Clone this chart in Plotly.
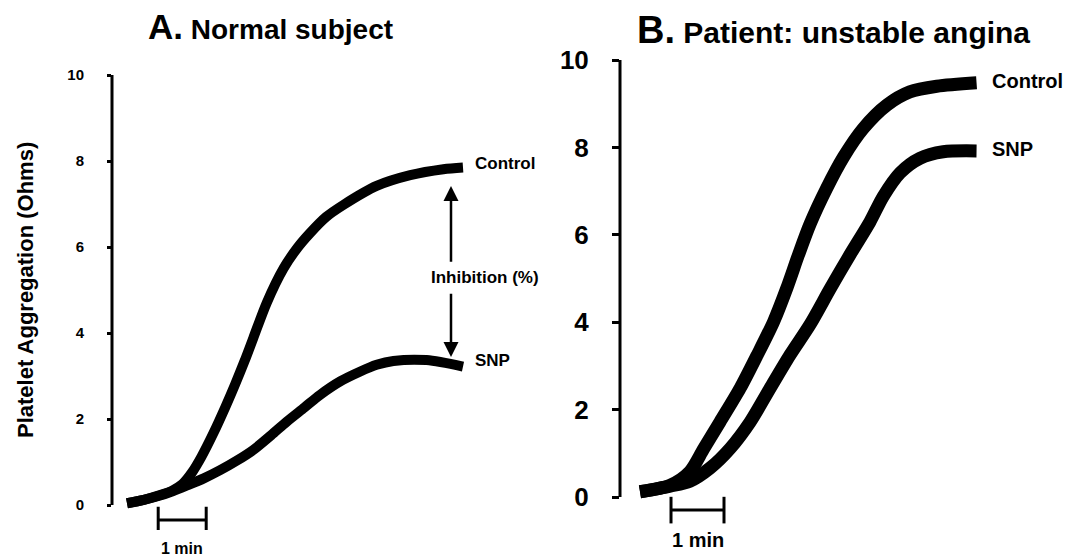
import plotly.graph_objects as go

# ---------------- data ----------------
# Panel A: normal subject (time in minutes, aggregation in Ohms)
a_time_control = [0, 0.35, 0.69, 0.95, 1.15, 1.35, 1.55, 1.80, 2.05, 2.25, 2.45, 2.63, 2.91, 3.26, 3.55, 3.81, 4.15, 4.51, 5.20, 5.90, 6.59, 7.0]
a_control = [0.04, 0.12, 0.23, 0.34, 0.48, 0.75, 1.12, 1.67, 2.28, 2.80, 3.35, 3.88, 4.70, 5.50, 5.98, 6.32, 6.70, 6.98, 7.42, 7.67, 7.81, 7.85]
a_time_snp = [0, 0.35, 0.69, 0.95, 1.24, 1.6, 1.94, 2.3, 2.63, 3.0, 3.33, 3.7, 4.02, 4.45, 4.85, 5.2, 5.55, 6.24, 7.0]
a_snp = [0.04, 0.12, 0.22, 0.32, 0.45, 0.62, 0.81, 1.04, 1.28, 1.62, 1.94, 2.27, 2.56, 2.88, 3.10, 3.26, 3.35, 3.37, 3.22]

# Panel B: patient with unstable angina
b_time_control = [0, 0.57, 0.94, 1.2, 1.51, 1.89, 2.20, 2.52, 2.77, 2.99, 3.21, 3.52, 3.84, 4.21, 4.66, 5.09, 5.60, 6.35]
b_control = [0.12, 0.27, 0.58, 1.10, 1.72, 2.49, 3.22, 4.01, 4.78, 5.54, 6.25, 7.06, 7.78, 8.43, 8.97, 9.27, 9.40, 9.48]
b_time_snp = [0, 0.57, 0.94, 1.32, 1.70, 2.08, 2.45, 2.83, 3.21, 3.59, 3.96, 4.34, 4.59, 4.91, 5.28, 5.72, 6.35]
b_snp = [0.12, 0.25, 0.36, 0.66, 1.11, 1.72, 2.48, 3.25, 3.95, 4.77, 5.54, 6.30, 6.88, 7.42, 7.75, 7.90, 7.92]

y_ticks = [0, 2, 4, 6, 8, 10]
scale_bar_a = [0.65, 1.65]    # 1 min
scale_bar_b = [0.585, 1.585]  # 1 min
inhibition_top = 7.42
inhibition_bottom = 3.44
inhibition_time = 6.75

# ---------------- figure ----------------
W, H = 1077, 560
FONT = "Liberation Sans, Arial, sans-serif"


def px_x(p):
    return p / W


def px_y(p):
    return 1 - p / H


fig = go.Figure()

curve_style_a = dict(color="black", width=10, shape="spline", smoothing=0.8)
curve_style_b = dict(color="black", width=13, shape="spline", smoothing=0.8)

fig.add_trace(go.Scatter(x=a_time_control, y=a_control, mode="lines", line=curve_style_a,
                         xaxis="x", yaxis="y", showlegend=False))
fig.add_trace(go.Scatter(x=a_time_snp, y=a_snp, mode="lines", line=curve_style_a,
                         xaxis="x", yaxis="y", showlegend=False))
fig.add_trace(go.Scatter(x=b_time_control, y=b_control, mode="lines", line=curve_style_b,
                         xaxis="x2", yaxis="y2", showlegend=False))
fig.add_trace(go.Scatter(x=b_time_snp, y=b_snp, mode="lines", line=curve_style_b,
                         xaxis="x2", yaxis="y2", showlegend=False))

# Scale bars (1 min)
bar_marker = dict(symbol="line-ns-open", size=19, line=dict(width=3, color="black"))
fig.add_trace(go.Scatter(x=scale_bar_a, y=[-0.35, -0.35], mode="lines+markers",
                         line=dict(color="black", width=3), marker=bar_marker,
                         xaxis="x", yaxis="y", showlegend=False))
fig.add_trace(go.Scatter(x=scale_bar_b, y=[-0.30, -0.30], mode="lines+markers",
                         line=dict(color="black", width=3), marker=bar_marker,
                         xaxis="x2", yaxis="y2", showlegend=False))

# Axes: panel A
a_left, a_right = 112, 545
a_t0, a_pxmin = 127, 48.0
a_y0px, a_pxunit = 505, 43.0
a_top, a_bot = 60, 530
fig.update_layout(
    xaxis=dict(domain=[px_x(a_left), px_x(a_right)],
               range=[(a_left - a_t0) / a_pxmin, (a_right - a_t0) / a_pxmin],
               visible=False, anchor="y"),
    yaxis=dict(domain=[px_y(a_bot), px_y(a_top)],
               range=[(a_y0px - a_bot) / a_pxunit, (a_y0px - a_top) / a_pxunit],
               tickvals=y_ticks, ticks="outside", ticklen=4, tickwidth=3, tickcolor="black",
               showgrid=False, zeroline=False, showline=False, anchor="x",
               ticklabelstandoff=20,
               tickfont=dict(family=FONT, size=15, color="black", weight="bold")),
)

# Axes: panel B
b_left, b_right = 620, 1010
b_t0, b_pxmin = 640, 53.0
b_y0px, b_pxunit = 497, 43.7
b_top, b_bot = 40, 525
fig.update_layout(
    xaxis2=dict(domain=[px_x(b_left), px_x(b_right)],
                range=[(b_left - b_t0) / b_pxmin, (b_right - b_t0) / b_pxmin],
                visible=False, anchor="y2"),
    yaxis2=dict(domain=[px_y(b_bot), px_y(b_top)],
                range=[(b_y0px - b_bot) / b_pxunit, (b_y0px - b_top) / b_pxunit],
                tickvals=y_ticks, ticks="outside", ticklen=7, tickwidth=3, tickcolor="black",
                showgrid=False, zeroline=False, showline=False, anchor="x2",
                ticklabelstandoff=18,
                tickfont=dict(family=FONT, size=26, color="black", weight="bold")),
)

# vertical axis lines from 0 to 10
fig.add_shape(type="line", xref="x domain", yref="y", x0=0, x1=0, y0=0, y1=10,
              line=dict(color="black", width=3))
fig.add_shape(type="line", xref="x2 domain", yref="y2", x0=0, x1=0, y0=0, y1=10,
              line=dict(color="black", width=3))


def a_paper(t, v):
    return px_x(a_t0 + t * a_pxmin), px_y(a_y0px - v * a_pxunit)


def b_paper(t, v):
    return px_x(b_t0 + t * b_pxmin), px_y(b_y0px - v * b_pxunit)


ann = []
# Titles
ann.append(dict(text="<b><span style='font-size:35px'>A.</span> Normal subject</b>",
                xref="paper", yref="paper", x=px_x(270), y=px_y(26), showarrow=False,
                font=dict(family=FONT, size=28, color="black"), xanchor="center", yanchor="middle"))
ann.append(dict(text="<b><span style='font-size:38px'>B.</span> Patient: unstable angina</b>",
                xref="paper", yref="paper", x=px_x(833), y=px_y(30), showarrow=False,
                font=dict(family=FONT, size=30, color="black"), xanchor="center", yanchor="middle"))
# Y title
ann.append(dict(text="<b>Platelet Aggregation (Ohms)</b>", xref="paper", yref="paper",
                x=px_x(25), y=px_y(290), textangle=-90, showarrow=False,
                font=dict(family=FONT, size=22, color="black"), xanchor="center", yanchor="middle"))
# Curve labels A
ann.append(dict(text="<b>Control</b>", xref="x", yref="y", x=(473 - a_t0) / a_pxmin, y=a_control[-1] + 0.1,
                showarrow=False, xanchor="left", yanchor="middle",
                font=dict(family=FONT, size=17, color="black")))
ann.append(dict(text="<b>SNP</b>", xref="x", yref="y", x=(473 - a_t0) / a_pxmin, y=a_snp[-1] + 0.15,
                showarrow=False, xanchor="left", yanchor="middle",
                font=dict(family=FONT, size=17, color="black")))
ann.append(dict(text="<b>Inhibition (%)</b>", xref="x", yref="y", x=inhibition_time + 0.7, y=5.28,
                showarrow=False, xanchor="center", yanchor="middle",
                font=dict(family=FONT, size=17, color="black")))
# Double arrow (split around text)
ann.append(dict(text="", xref="x", yref="y", axref="x", ayref="y",
                x=inhibition_time, y=inhibition_top, ax=inhibition_time, ay=5.62,
                showarrow=True, arrowhead=2, arrowsize=1.2, arrowwidth=2.5, arrowcolor="black"))
ann.append(dict(text="", xref="x", yref="y", axref="x", ayref="y",
                x=inhibition_time, y=inhibition_bottom, ax=inhibition_time, ay=4.95,
                showarrow=True, arrowhead=2, arrowsize=1.2, arrowwidth=2.5, arrowcolor="black"))
# Curve labels B
ann.append(dict(text="<b>Control</b>", xref="x2", yref="y2", x=(990 - b_t0) / b_pxmin, y=b_control[-1] + 0.05,
                showarrow=False, xanchor="left", yanchor="middle",
                font=dict(family=FONT, size=20, color="black")))
ann.append(dict(text="<b>SNP</b>", xref="x2", yref="y2", x=(990 - b_t0) / b_pxmin, y=b_snp[-1] + 0.05,
                showarrow=False, xanchor="left", yanchor="middle",
                font=dict(family=FONT, size=20, color="black")))
# Scale bar labels (paper coordinates, below the plotted range)
lx, ly = a_paper(sum(scale_bar_a) / 2, -1.0)
ann.append(dict(text="<b>1 min</b>", xref="paper", yref="paper", x=lx, y=ly,
                showarrow=False, xanchor="center", yanchor="middle",
                font=dict(family=FONT, size=16, color="black")))
rx, ry = b_paper(sum(scale_bar_b) / 2, -0.98)
ann.append(dict(text="<b>1 min</b>", xref="paper", yref="paper", x=rx, y=ry,
                showarrow=False, xanchor="center", yanchor="middle",
                font=dict(family=FONT, size=20, color="black")))

fig.update_layout(width=W, height=H, margin=dict(l=0, r=0, t=0, b=0),
                  paper_bgcolor="white", plot_bgcolor="white", annotations=ann,
                  font=dict(family=FONT, color="black"))

fig.write_html("out.html")
